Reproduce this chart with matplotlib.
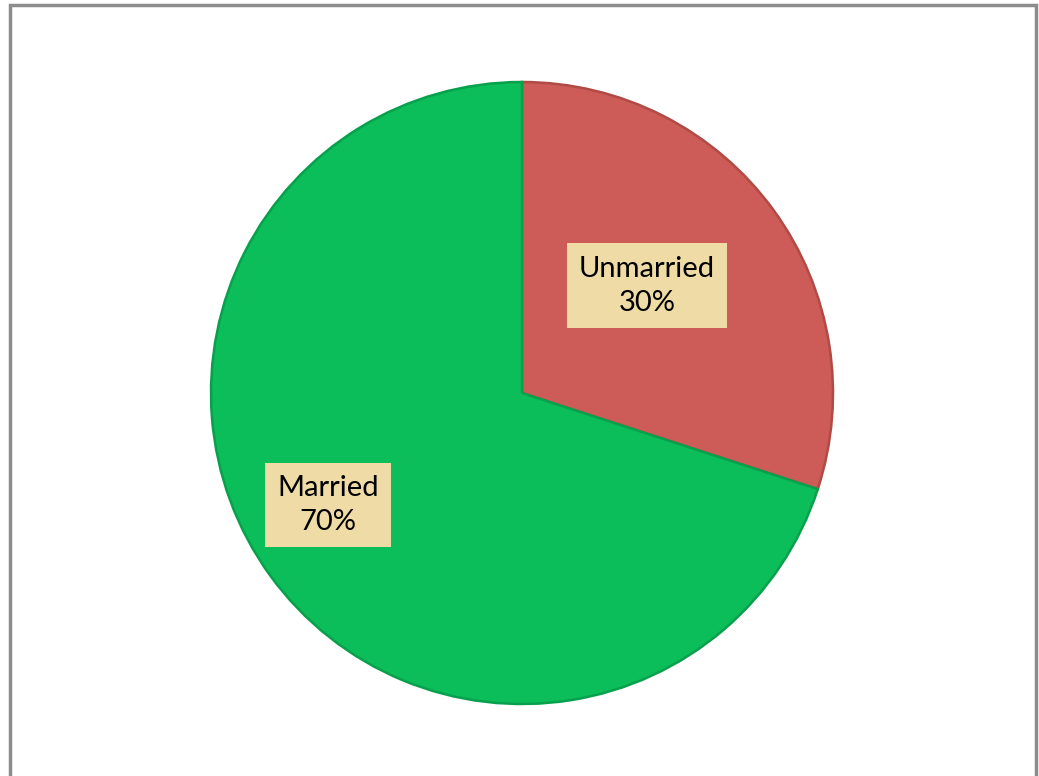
import matplotlib.pyplot as plt
from matplotlib.patches import Rectangle
import numpy as np

# Datos del grafico
categorias = ["Unmarried", "Married"]
porcentajes = [30, 70]
colores = ["#CD5B57", "#0BBE5A"]
bordes = ["#B04A45", "#08A04C"]

fig = plt.figure(figsize=(10.39, 7.76), dpi=100)
ax = fig.add_axes([0, 0, 1, 1])

centro = (522, 383)
radio = 311

cunas, _ = ax.pie(porcentajes, colors=colores, startangle=90, counterclock=False,
                  center=centro, radius=radio, frame=True,
                  wedgeprops=dict(linewidth=1.8))
for c, b in zip(cunas, bordes):
    c.set_edgecolor(b)

ax.set_xlim(0, 1039)
ax.set_ylim(0, 776)
ax.set_aspect("equal")
ax.axis("off")

# Etiquetas con caja color papiro (distancia relativa y giro en grados)
distancias = [0.53, 0.72]
giros = [4.6, -6.0]
for c, nombre, p, d, g in zip(cunas, categorias, porcentajes, distancias, giros):
    ang = np.deg2rad((c.theta1 + c.theta2) / 2 + g)
    x = centro[0] + d * radio * np.cos(ang)
    y = centro[1] + d * radio * np.sin(ang)
    ax.text(x, y, f"{nombre}\n{p}%", ha="center", va="center", fontsize=21,
            family=["Lato", "DejaVu Sans"], color="black", linespacing=1.4,
            bbox=dict(boxstyle="square,pad=0.42", facecolor="#EFDBA6", edgecolor="none"))

# Marco gris alrededor
fig.add_artist(Rectangle((9.5 / 1039, -0.05), (1036 - 9.5) / 1039, 1.05 - 5.5 / 776,
                         transform=fig.transFigure, fill=False,
                         edgecolor="#8C8C8C", linewidth=2.5))

plt.savefig("out.png", dpi=100)
